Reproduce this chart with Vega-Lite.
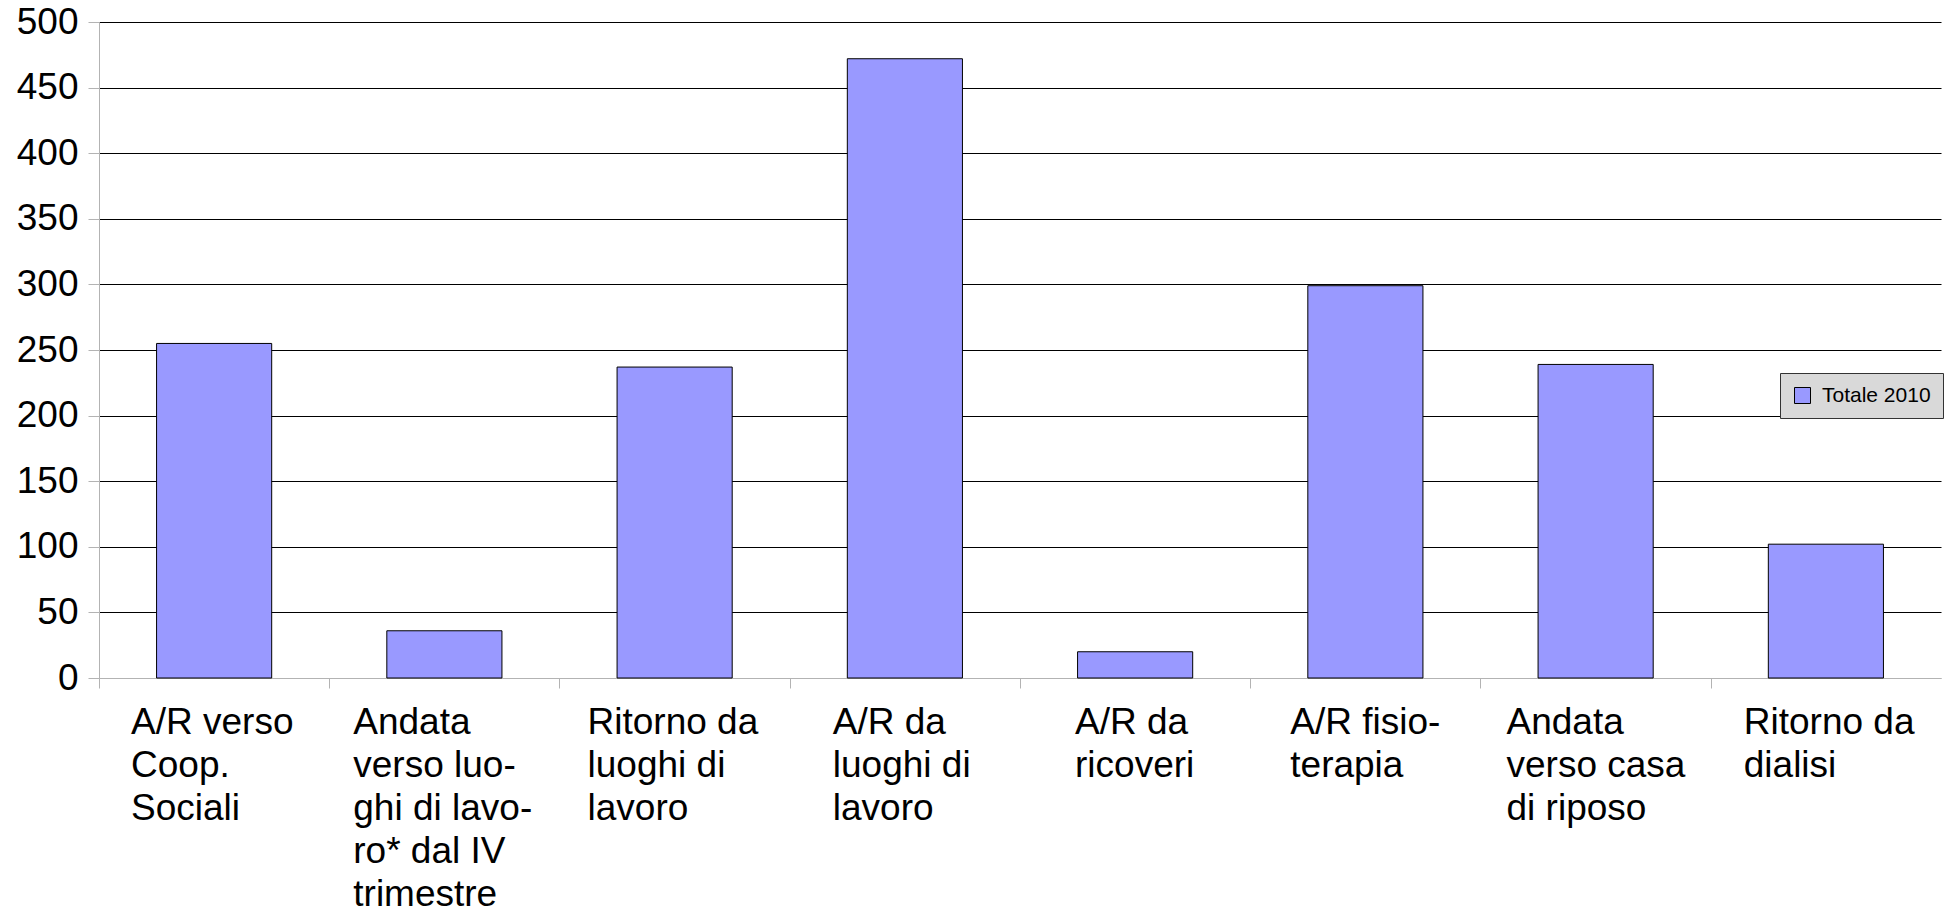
{
  "$schema": "https://vega.github.io/schema/vega-lite/v6.json",
  "autosize": {"type": "none"},
  "padding": {"left": 99, "top": 22, "right": 5, "bottom": 237},
  "width": 1842,
  "height": 656,
  "background": "white",
  "config": {"view": {"stroke": null}, "font": "Liberation Sans"},
  "data": {
    "values": [
      {"categoria": "A/R verso\nCoop.\nSociali", "valore": 255},
      {"categoria": "Andata\nverso luo-\nghi di lavo-\nro* dal IV\ntrimestre", "valore": 36},
      {"categoria": "Ritorno da\nluoghi di\nlavoro", "valore": 237},
      {"categoria": "A/R da\nluoghi di\nlavoro", "valore": 472},
      {"categoria": "A/R da\nricoveri", "valore": 20},
      {"categoria": "A/R fisio-\nterapia", "valore": 299},
      {"categoria": "Andata\nverso casa\ndi riposo", "valore": 239},
      {"categoria": "Ritorno da\ndialisi", "valore": 102}
    ]
  },
  "mark": {"type": "bar", "stroke": "#000000", "strokeWidth": 1},
  "encoding": {
    "x": {
      "field": "categoria",
      "type": "nominal",
      "sort": null,
      "scale": {"paddingInner": 0.5, "paddingOuter": 0.25},
      "axis": {
        "title": null,
        "bandPosition": 0,
        "tickOffset": -57.6,
        "labelAngle": 0,
        "labelAlign": "left",
        "labelBaseline": "top",
        "labelFont": "Liberation Sans",
        "labelFontSize": 37,
        "labelColor": "#000000",
        "labelLineHeight": 43,
        "labelPadding": 16,
        "labelLimit": 0,
        "labelExpr": "split(datum.label, '\\n')",
        "labelOffset": {
          "condition": [
            {"test": "indexof(datum.value, 'Coop') >= 0", "value": -26},
            {"test": "indexof(datum.value, 'trimestre') >= 0", "value": -34},
            {"test": "indexof(datum.value, 'Ritorno da\\nluoghi') >= 0", "value": -30},
            {"test": "indexof(datum.value, 'A/R da\\nluoghi') >= 0", "value": -15},
            {"test": "indexof(datum.value, 'ricoveri') >= 0", "value": -3},
            {"test": "indexof(datum.value, 'fisio') >= 0", "value": -18},
            {"test": "indexof(datum.value, 'casa') >= 0", "value": -32}
          ],
          "value": -25
        },
        "tickSize": 10,
        "tickColor": "#b3b3b3",
        "domainColor": "#b3b3b3",
        "grid": false
      }
    },
    "y": {
      "field": "valore",
      "type": "quantitative",
      "scale": {"domain": [0, 500], "nice": false},
      "axis": {
        "title": null,
        "values": [0, 50, 100, 150, 200, 250, 300, 350, 400, 450, 500],
        "labelFont": "Liberation Sans",
        "labelFontSize": 37,
        "labelColor": "#000000",
        "labelPadding": 10,
        "tickSize": 11,
        "tickColor": "#b3b3b3",
        "domainColor": "#b3b3b3",
        "grid": true,
        "gridColor": {"condition": {"test": "datum.value === 0", "value": "#b3b3b3"}, "value": "#000000"},
        "gridWidth": 1
      }
    },
    "color": {
      "datum": "Totale 2010",
      "type": "nominal",
      "scale": {"range": ["#9999ff"]},
      "legend": {
        "title": null,
        "orient": "none",
        "legendX": 1681,
        "legendY": 351,
        "fillColor": "#d9d9d9",
        "strokeColor": "#333333",
        "padding": 12,
        "symbolType": "square",
        "symbolSize": 256,
        "symbolStrokeColor": "#000000",
        "symbolStrokeWidth": 1,
        "symbolOffset": 0,
        "labelOffset": 9,
        "labelFont": "Liberation Sans",
        "labelFontSize": 21,
        "labelColor": "#000000"
      }
    }
  }
}
